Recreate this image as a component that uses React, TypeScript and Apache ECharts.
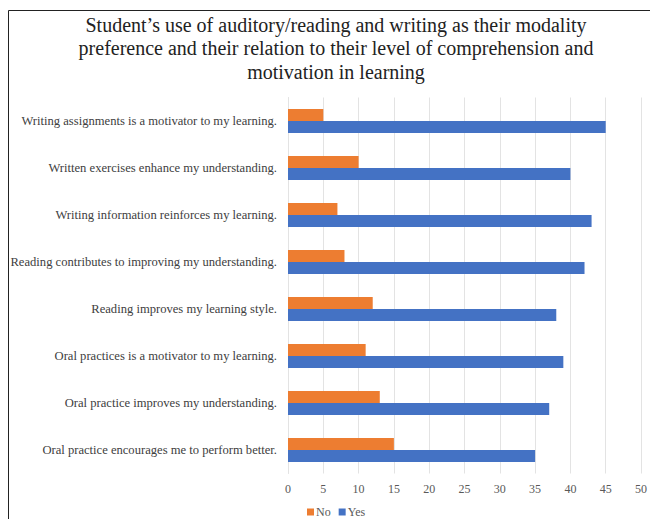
import React, { useEffect, useRef } from "react";
import * as echarts from "echarts";

const categories = [
  "Writing assignments is a motivator to my learning.",
  "Written exercises enhance my understanding.",
  "Writing information reinforces my learning.",
  "Reading contributes to improving my understanding.",
  "Reading improves my learning style.",
  "Oral practices is a motivator to my learning.",
  "Oral practice improves my understanding.",
  "Oral practice encourages me to perform better.",
];
const noValues = [5, 10, 7, 8, 12, 11, 13, 15];
const yesValues = [45, 40, 43, 42, 38, 39, 37, 35];
const titleText =
  "Student\u2019s use of auditory/reading and writing as their modality\npreference and their relation to their level of comprehension and\nmotivation in learning";

const SERIF = "'Liberation Serif', 'Times New Roman', serif";

export default function App() {
  const ref = useRef<HTMLDivElement>(null);
  useEffect(() => {
    if (!ref.current) return;
    const chart = echarts.init(ref.current, undefined, { renderer: "svg" });
    chart.setOption({
      animation: false,
      backgroundColor: "#ffffff",
      title: {
        text: titleText,
        left: 331,
        top: 8,
        textAlign: "center",
        textStyle: {
          fontFamily: SERIF,
          fontSize: 20,
          fontWeight: "normal",
          color: "#222222",
          lineHeight: 23.5,
        },
      },
      graphic: [
        {
          type: "rect",
          shape: { x: 8.5, y: 10.5, width: 700, height: 600 },
          style: { fill: "none", stroke: "#222222", lineWidth: 1 },
          silent: true,
        },
      ],
      legend: {
        data: ["No", "Yes"],
        left: 302,
        top: 501,
        itemWidth: 7,
        itemHeight: 7,
        itemGap: 8,
        icon: "rect",
        textStyle: { fontFamily: SERIF, fontSize: 12, color: "#595959", padding: [0, 0, 0, -3] },
      },
      grid: { left: 288, right: 9, top: 97.5, bottom: 519 - 473.5, containLabel: false },
      xAxis: {
        type: "value",
        min: 0,
        max: 50,
        interval: 5,
        axisLine: { show: false },
        axisTick: { show: false },
        splitLine: { lineStyle: { color: "#e3e3e3", width: 1 } },
        axisLabel: { fontFamily: SERIF, fontSize: 12, color: "#595959", margin: 9 },
      },
      yAxis: {
        type: "category",
        data: categories,
        inverse: true,
        axisLine: { show: true, lineStyle: { color: "#e3e3e3" } },
        axisTick: { show: false },
        axisLabel: { fontFamily: SERIF, fontSize: 12.6, color: "#404040", margin: 11 },
      },
      series: [
        {
          name: "No",
          type: "bar",
          data: noValues,
          barWidth: 12,
          barGap: "0%",
          itemStyle: { color: "#ED7D31" },
        },
        {
          name: "Yes",
          type: "bar",
          data: yesValues,
          barWidth: 12,
          barGap: "0%",
          itemStyle: { color: "#4472C4" },
        },
      ],
    });
    return () => chart.dispose();
  }, []);
  return <div ref={ref} style={{ width: 650, height: 519, position: "absolute", left: 0, top: 0 }} />;
}
